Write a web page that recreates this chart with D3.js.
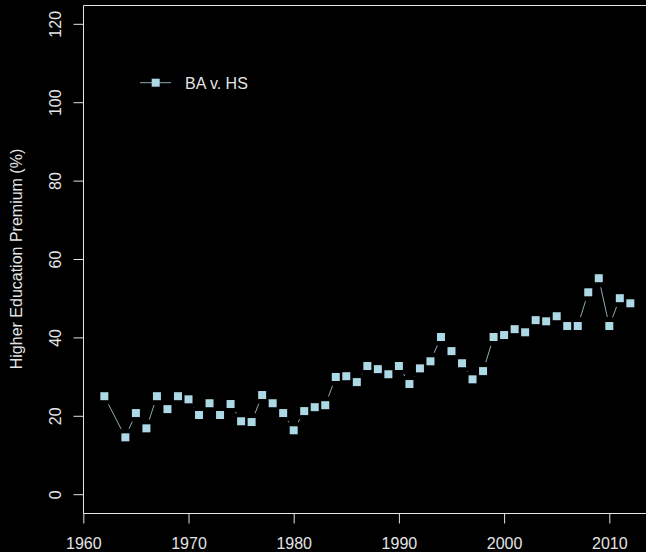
<!DOCTYPE html>
<html>
<head>
<meta charset="utf-8">
<script src="https://cdn.jsdelivr.net/npm/d3@7"></script>
<style>
  html, body { margin: 0; padding: 0; background: #000; }
  svg { display: block; }
</style>
</head>
<body>
<div id="chart"></div>
<script>
// data (1963 is absent in the source)
var years = [1962, 1964, 1965, 1966, 1967, 1968, 1969, 1970, 1971, 1972, 1973, 1974,
             1975, 1976, 1977, 1978, 1979, 1980, 1981, 1982, 1983, 1984, 1985, 1986,
             1987, 1988, 1989, 1990, 1991, 1992, 1993, 1994, 1995, 1996, 1997, 1998,
             1999, 2000, 2001, 2002, 2003, 2004, 2005, 2006, 2007, 2008, 2009, 2010,
             2011, 2012];
var premium = [25.0, 14.5, 20.7, 16.8, 25.0, 21.7, 25.0, 24.2, 20.2, 23.2, 20.2, 23.0,
               18.6, 18.4, 25.3, 23.2, 20.7, 16.3, 21.2, 22.2, 22.7, 29.9, 30.1, 28.6,
               32.7, 31.9, 30.6, 32.7, 28.1, 32.1, 33.9, 40.1, 36.5, 33.4, 29.3, 31.4,
               40.1, 40.6, 42.1, 41.3, 44.4, 44.1, 45.4, 42.9, 42.9, 51.5, 55.1, 42.9,
               50.0, 48.7];
var yTicks = [0, 20, 40, 60, 80, 100, 120];
var xTicks = [1960, 1970, 1980, 1990, 2000, 2010];
var seriesName = "BA v. HS";
var yTitle = "Higher Education Premium (%)";

var width = 646, height = 552;
var fg = "#e4e4e4", ptColor = "#add8e6";
var font = "'Liberation Sans', Arial, Helvetica, sans-serif";

var svg = d3.select("#chart").append("svg")
    .attr("width", width)
    .attr("height", height)
    .style("background", "#000");

var x = d3.scaleLinear().domain([1960, 2014]).range([83.3, 83.3 + 54 * 10.52]);
var y = d3.scaleLinear().domain([-4.8, 124.8]).range([513, 5]);

// plot box (right side runs off the picture)
svg.append("path")
    .attr("d", "M" + x.range()[1] + ",5.5H83.5V513.5H" + x.range()[1])
    .attr("fill", "none")
    .attr("stroke", fg)
    .attr("stroke-width", 1);

var yAxis = d3.axisLeft(y).tickValues(yTicks).tickSize(10).tickFormat(d3.format("d"));
var gy = svg.append("g").attr("transform", "translate(83.5,0)").call(yAxis);
gy.select(".domain").remove();
gy.selectAll(".tick line").attr("stroke", fg);
gy.selectAll(".tick text")
    .attr("x", null).attr("dy", null)
    .attr("transform", "translate(-22.5,0) rotate(-90)")
    .style("text-anchor", "middle")
    .style("font-family", font)
    .style("font-size", "16px")
    .attr("fill", fg);

var xAxis = d3.axisBottom(x).tickValues(xTicks).tickSize(10).tickFormat(d3.format("d"));
var gx = svg.append("g").attr("transform", "translate(0,513.5)").call(xAxis);
gx.select(".domain").remove();
gx.selectAll(".tick line").attr("stroke", fg);
gx.selectAll(".tick text")
    .attr("y", 35.5).attr("dy", null)
    .style("font-family", font)
    .style("font-size", "16px")
    .attr("fill", fg);

svg.append("text")
    .attr("transform", "translate(21.7," + ((5 + 513) / 2) + ") rotate(-90)")
    .style("text-anchor", "middle")
    .style("font-family", font)
    .style("font-size", "16px")
    .attr("fill", fg)
    .text(yTitle);

// type "b": segments with a gap around each point
var pts = years.map(function(d, i) { return [x(d), y(premium[i])]; });
var gap = 9.3;
var plot = svg.append("g");
for (var i = 0; i < pts.length - 1; i++) {
  var p = pts[i], q = pts[i + 1];
  var dx = q[0] - p[0], dy = q[1] - p[1];
  var len = Math.sqrt(dx * dx + dy * dy);
  if (len <= 2 * gap) continue;
  var ux = dx / len, uy = dy / len;
  plot.append("line")
      .attr("x1", p[0] + ux * gap).attr("y1", p[1] + uy * gap)
      .attr("x2", q[0] - ux * gap).attr("y2", q[1] - uy * gap)
      .attr("stroke", ptColor)
      .attr("stroke-opacity", 0.8)
      .attr("stroke-width", 1);
}

plot.selectAll("rect.pt")
    .data(pts)
    .enter().append("rect")
    .attr("class", "pt")
    .attr("x", function(d) { return d[0] - 4; })
    .attr("y", function(d) { return d[1] - 4; })
    .attr("width", 8)
    .attr("height", 8)
    .attr("fill", ptColor);

// legend
var legend = svg.append("g");
legend.append("line")
    .attr("x1", 140).attr("x2", 171)
    .attr("y1", 82.7).attr("y2", 82.7)
    .attr("stroke", ptColor)
    .attr("stroke-opacity", 0.8);
legend.append("rect")
    .attr("x", 151.7).attr("y", 78.7)
    .attr("width", 8).attr("height", 8)
    .attr("fill", ptColor);
legend.append("text")
    .attr("x", 185)
    .attr("y", 88.5)
    .style("font-family", font)
    .style("font-size", "16px")
    .attr("fill", fg)
    .text(seriesName);
</script>
</body>
</html>
